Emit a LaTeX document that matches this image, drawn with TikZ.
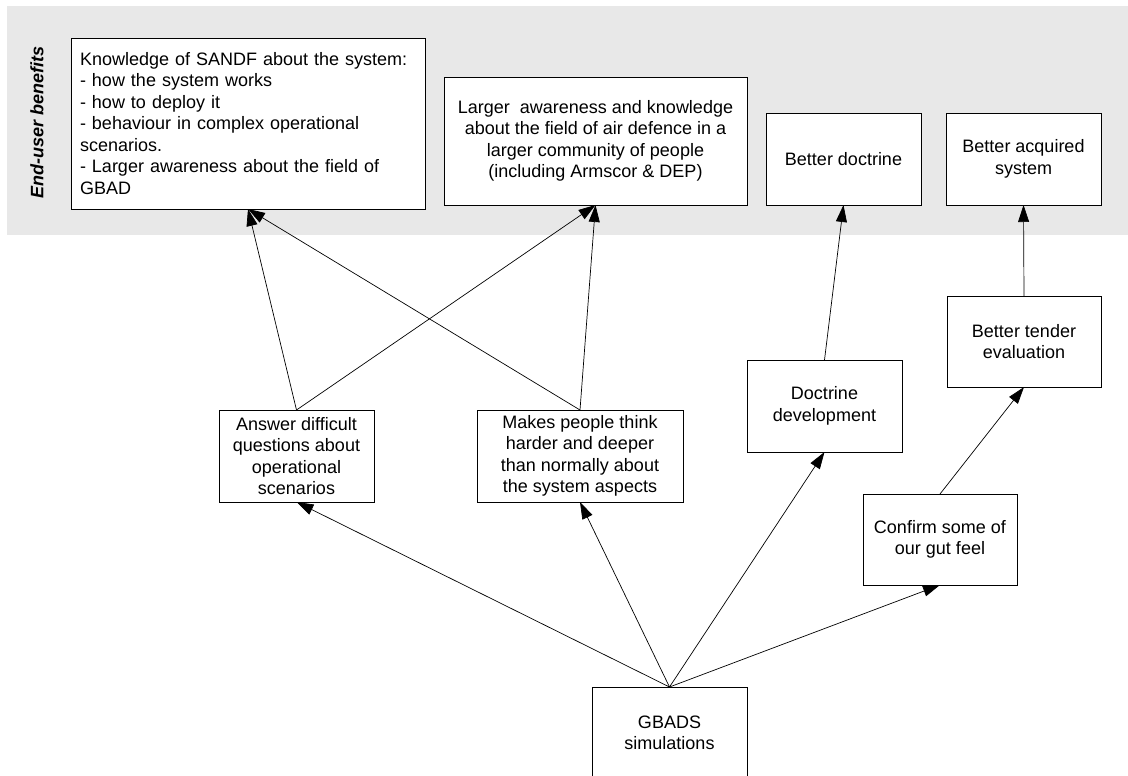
\documentclass[tikz,border=0pt]{standalone}
\usepackage{fontspec}
\setmainfont{Liberation Sans}
\usetikzlibrary{arrows.meta}
\definecolor{bandgray}{RGB}{232,232,232}
\begin{document}
\begin{tikzpicture}[x=1pt,y=-1pt,
  font=\fontsize{18}{21.5}\selectfont,
  box/.style={draw=black, line width=0.8pt, fill=white, inner sep=0pt,
              outer sep=0pt, align=center},
  link/.style={-{Triangle[length=17pt,width=11pt]}, line width=0.7pt}
]
\useasboundingbox (0,0) rectangle (1128,776);
\clip (0,0) rectangle (1128,776);

% end-user benefit band
\fill[bandgray] (7,6) rectangle (1128,235);
\node[rotate=90, font=\fontsize{18}{21}\selectfont\bfseries\itshape] (band) at (37,122) {End-user benefits};

% benefits
\node[box, align=left, inner xsep=9pt, text width=336pt, minimum height=171pt] (sandf) at (248,123.5)
  {Knowledge of SANDF about the system:\\
   - how the system works\\
   - how to deploy it\\
   - behaviour in complex operational\\
   scenarios.\\
   - Larger awareness about the field of\\
   GBAD};
\node[box, minimum width=303pt, minimum height=128pt] (aware) at (595.5,141)
  {Larger\ \ awareness and knowledge\\about the field of air defence in a\\larger community of people\\(including Armscor \& DEP)};
\node[box, minimum width=155pt, minimum height=92pt] (bdoc) at (843.5,159) {Better doctrine};
\node[box, minimum width=155pt, minimum height=92pt] (bsys) at (1023.5,159) {Better acquired\\system};

% intermediate effects
\node[box, minimum width=155pt, minimum height=92pt] (answer) at (296.5,456)
  {Answer difficult\\questions about\\operational\\scenarios};
\node[box, minimum width=206pt, minimum height=92pt] (think) at (580,456)
  {Makes people think\\harder and deeper\\than normally about\\the system aspects};
\node[box, minimum width=155pt, minimum height=92pt] (docdev) at (824.5,406) {Doctrine\\development};
\node[box, minimum width=154pt, minimum height=91pt] (tender) at (1024,341.5) {Better tender\\evaluation};
\node[box, minimum width=154pt, minimum height=91pt] (gut) at (940,539.5) {Confirm some of\\our gut feel};

% source
\node[box, minimum width=155pt, minimum height=92pt] (gbads) at (669.5,733) {GBADS\\simulations};

% connectors
\draw[link] (answer.north) -- (sandf.south);
\draw[link] (answer.north) -- (aware.south);
\draw[link] (think.north) -- (sandf.south);
\draw[link] (think.north) -- (aware.south);
\draw[link] (docdev.north) -- (bdoc.south);
\draw[link] (tender.north) -- (bsys.south);
\draw[link] (gut.north) -- (tender.south);
\draw[link] (gbads.north) -- (answer.south);
\draw[link] (gbads.north) -- (think.south);
\draw[link] (gbads.north) -- (docdev.south);
\draw[link] (gbads.north) -- (gut.south);
\end{tikzpicture}
\end{document}
